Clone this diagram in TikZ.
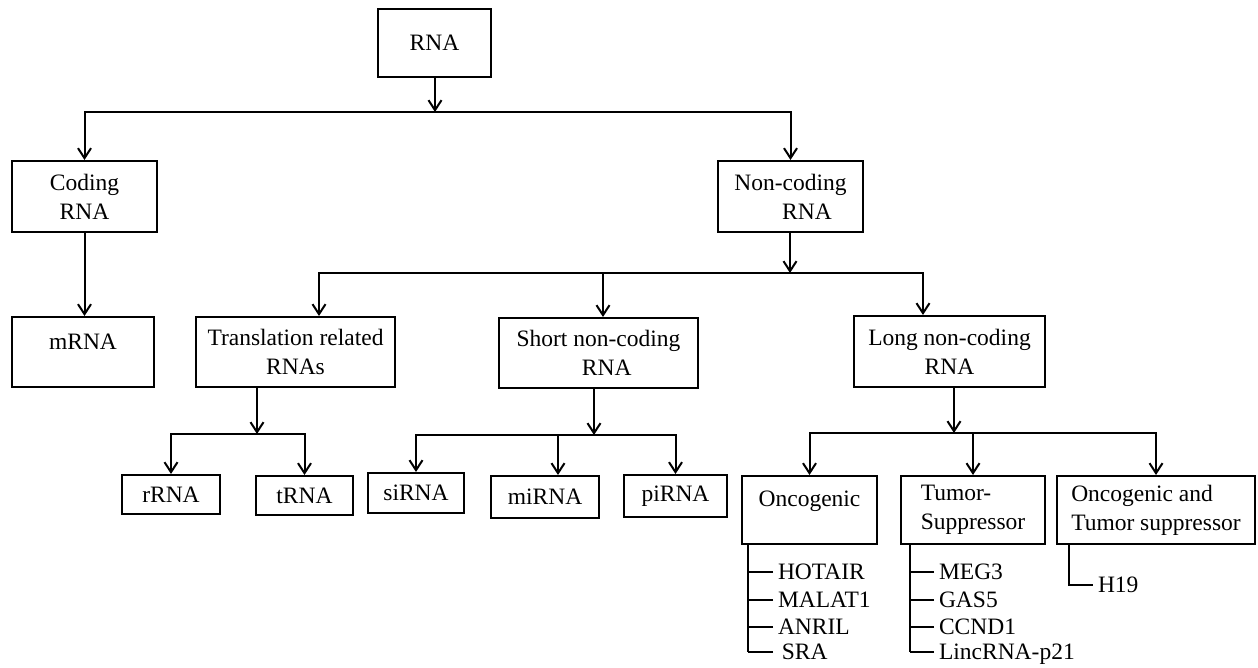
\documentclass[tikz,border=0pt]{standalone}
\usepackage{fontspec}
\setmainfont{Liberation Serif}
\usetikzlibrary{arrows.meta}

\begin{document}
\begin{tikzpicture}[x=1pt, y=-1pt, line width=2pt,
  font=\fontsize{23.5}{29}\selectfont,
  box/.style={draw, align=center, inner sep=0pt},
  arr/.style={-{Straight Barb[length=10pt,width=13pt]}},
  item/.style={anchor=west, inner xsep=4pt, inner ysep=0pt, text height=15pt, text depth=0pt}]
  \useasboundingbox (0,0) rectangle (1258,668);

  % top levels
  \node[box, minimum width=113, minimum height=68] (rna) at (434.5,43) {RNA};
  \node[box, minimum width=145, minimum height=71] (coding) at (84.5,196.5) {Coding\\RNA};
  \node[box, minimum width=145, minimum height=71] (noncoding) at (790.5,196.5) {Non-coding\\\hspace*{1.4em}RNA};
  \node[box, minimum width=142, minimum height=70] (mrna) at (83,352) {mRNA\\[-18pt]\strut};
  \node[box, minimum width=199, minimum height=70] (trans) at (295.5,352) {Translation related\\RNAs};
  \node[box, minimum width=199, minimum height=70] (short) at (598.5,353) {Short non-coding\\\hspace*{0.7em}RNA};
  \node[box, minimum width=191, minimum height=71] (long) at (949.5,351.5) {Long non-coding\\RNA};

  % small RNAs
  \node[box, minimum width=98, minimum height=39] (rrna) at (171,494.5) {rRNA};
  \node[box, minimum width=97, minimum height=39] (trna) at (304.5,495.5) {tRNA};
  \node[box, minimum width=96, minimum height=40] (sirna) at (416,493) {siRNA};
  \node[box, minimum width=108, minimum height=42] (mirna) at (545,497) {miRNA};
  \node[box, minimum width=103, minimum height=42] (pirna) at (675.5,496) {piRNA};

  % lncRNA groups
  \node[box, minimum width=135, minimum height=68] (onco) at (809.5,510) {Oncogenic\\[-16pt]\strut};
  \node[box, align=left, minimum width=144, minimum height=68] (tumor) at (973,510) {Tumor-\\Suppressor};
  \node[box, align=left, minimum width=198, minimum height=68] (both) at (1156,510) {Oncogenic and\\Tumor suppressor};

  % bus points
  \coordinate (j1) at (435,112);
  \coordinate (j2) at (790,273);
  \coordinate (j3) at (257,434);
  \coordinate (j4) at (594,435);
  \coordinate (j5) at (954,433);

  \draw[arr] (rna.south -| j1) -- (j1);
  \draw[arr] (j1) -| (coding);
  \draw[arr] (j1) -| (noncoding);
  \draw[arr] (coding.south) -- (coding.south |- mrna.north);

  \draw[arr] (noncoding.south -| j2) -- (j2);
  \draw[arr] (j2) -| ([xshift=23.5]trans.north);
  \draw[arr] (j2) -| ([xshift=4.5]short.north);
  \draw[arr] (j2) -| ([xshift=-26.5]long.north);

  \draw[arr] (trans.south -| j3) -- (j3);
  \draw[arr] (j3) -| (rrna);
  \draw[arr] (j3) -| (trna);

  \draw[arr] (short.south -| j4) -- (j4);
  \draw[arr] (j4) -| (sirna);
  \draw[arr] (j4) -| ([xshift=13]mirna.north);
  \draw[arr] (j4) -| (pirna);

  \draw[arr] (long.south -| j5) -- (j5);
  \draw[arr] (j5) -| (onco);
  \draw[arr] (j5) -| (tumor);
  \draw[arr] (j5) -| (both);

  % gene lists
  \coordinate (ot) at ([xshift=7]onco.south west);
  \coordinate (tt) at ([xshift=10]tumor.south west);
  \coordinate (bt) at ([xshift=13]both.south west);
  \foreach \y/\txt in {572/HOTAIR, 600/MALAT1, 627/ANRIL, 652/\,SRA} {
    \node[item] (o\y) at (773,\y) {\txt};
    \draw (o\y.west) -- (o\y.west -| ot);
  }
  \draw (ot) -- (ot |- o652.west);
  \foreach \y/\txt in {572/MEG3, 600/GAS5, 627/CCND1, 652/LincRNA-p21} {
    \node[item] (t\y) at (934,\y) {\txt};
    \draw (t\y.west) -- (t\y.west -| tt);
  }
  \draw (tt) -- (tt |- t652.west);
  \node[item] (h19) at (1093,585) {H19};
  \draw (bt) |- (h19.west);
\end{tikzpicture}
\end{document}
